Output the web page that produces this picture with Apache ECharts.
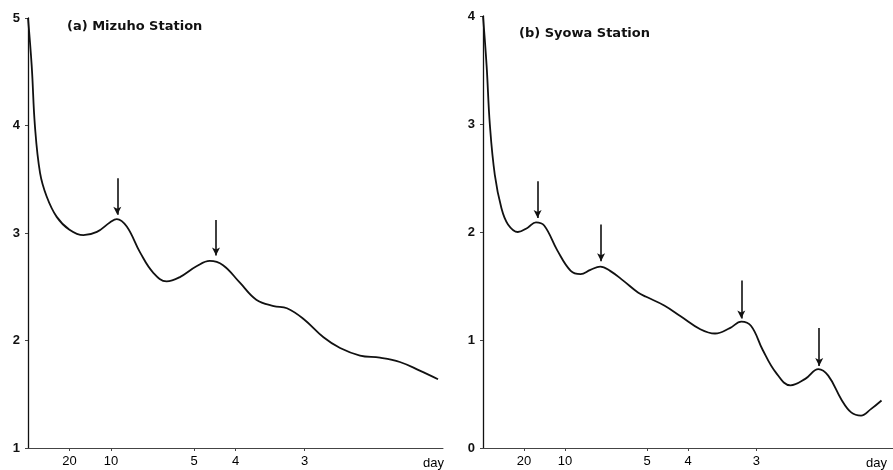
<!DOCTYPE html>
<html>
<head>
<meta charset="utf-8">
<title>Spectra - Mizuho / Syowa</title>
<script src="https://cdn.jsdelivr.net/npm/echarts@6/dist/echarts.min.js"></script>
<style>
	html, body { margin: 0; padding: 0; background: #fff; }
	#chart { width: 893px; height: 470px; }
</style>
</head>
<body>
<div id="chart"></div>
<script>
// frequency (cycles/day) and spectral level
var freqA = [0, 0.0045, 0.0084, 0.0145, 0.0225, 0.0346, 0.05, 0.0667, 0.083, 0.099, 0.107, 0.119, 0.135, 0.151, 0.167, 0.183, 0.203, 0.219, 0.235, 0.255, 0.275, 0.296, 0.312, 0.332, 0.356, 0.376, 0.40, 0.424, 0.448, 0.472, 0.494];
var specA = [5.0, 4.55, 3.99, 3.56, 3.34, 3.15, 3.03, 2.98, 3.01, 3.10, 3.13, 3.06, 2.82, 2.63, 2.55, 2.59, 2.69, 2.74, 2.70, 2.54, 2.38, 2.32, 2.30, 2.20, 2.03, 1.93, 1.86, 1.84, 1.80, 1.72, 1.64];

var freqB = [0, 0.0044, 0.0084, 0.0144, 0.0225, 0.0305, 0.0425, 0.0545, 0.0646, 0.0746, 0.0906, 0.107, 0.119, 0.131, 0.143, 0.155, 0.171, 0.189, 0.199, 0.221, 0.241, 0.265, 0.283, 0.301, 0.315, 0.327, 0.341, 0.357, 0.375, 0.393, 0.409, 0.421, 0.437, 0.449, 0.461, 0.473, 0.486];
var specB = [4.0, 3.54, 2.99, 2.53, 2.22, 2.07, 2.00, 2.04, 2.09, 2.06, 1.83, 1.64, 1.61, 1.65, 1.68, 1.64, 1.55, 1.44, 1.40, 1.32, 1.22, 1.10, 1.06, 1.11, 1.17, 1.13, 0.91, 0.70, 0.58, 0.64, 0.73, 0.67, 0.45, 0.33, 0.30, 0.36, 0.44];

// arrows over the peaks: frequency, top of shaft, tip
var arrowFreqA = [0.1076, 0.2265];
var arrowTopA = [3.51, 3.12];
var arrowTipA = [3.17, 2.79];

var arrowFreqB = [0.0666, 0.144, 0.315, 0.410];
var arrowTopB = [2.47, 2.07, 1.55, 1.11];
var arrowTipB = [2.13, 1.73, 1.20, 0.76];

// period tick labels (days)
var periodTicks = [20, 10, 5, 4, 3];

var fontFam = '"Liberation Sans", Arial, sans-serif';

function pairs(xs, ys) {
	return xs.map(function (x, i) { return [x, ys[i]]; });
}
function arrows(fs, tops, tips) {
	return fs.map(function (f, i) {
		return [{ coord: [f, tops[i]] }, { coord: [f, tips[i]] }];
	});
}

var tickFreq = periodTicks.map(function (p) { return 1 / p; });

function xAxisOpt(gridIndex, gap) {
	return {
		type: 'value', gridIndex: gridIndex, min: 0, max: 0.5,
		name: 'day', nameLocation: 'end', nameGap: gap,
		nameTextStyle: { color: '#000', fontFamily: fontFam, fontSize: 13, verticalAlign: 'top', padding: [9, 0, 0, 0] },
		axisLine: { lineStyle: { color: '#444', width: 1 } },
		axisTick: { show: true, customValues: tickFreq, length: 3, lineStyle: { color: '#444' } },
		axisLabel: {
			customValues: tickFreq, color: '#000', fontFamily: fontFam, fontSize: 13, margin: 7,
			formatter: function (v) { return Math.round(1 / v); }
		},
		splitLine: { show: false }
	};
}
function yAxisOpt(gridIndex, lo, hi) {
	return {
		type: 'value', gridIndex: gridIndex, min: lo, max: hi, interval: 1,
		axisLine: { show: true, lineStyle: { color: '#111', width: 1.3 } },
		axisTick: { show: true, length: 3, lineStyle: { color: '#444' } },
		axisLabel: { color: '#111', fontFamily: fontFam, fontSize: 13, fontWeight: 'bold', margin: 8 },
		splitLine: { show: false }
	};
}
function lineSeries(idx, data, arr) {
	return {
		type: 'line', xAxisIndex: idx, yAxisIndex: idx,
		data: data, smooth: 0.4, showSymbol: false, symbol: 'none',
		lineStyle: { color: '#111', width: 1.8 },
		markLine: {
			silent: true, symbol: ['none', 'arrow'], symbolSize: [6, 8],
			label: { show: false },
			lineStyle: { color: '#111', width: 1.6, type: 'solid' },
			data: arr
		}
	};
}

var titleStyle = { fontFamily: '"DejaVu Sans", sans-serif', fontSize: 13, fontWeight: 'bold', color: '#111' };

var myChart = echarts.init(document.getElementById('chart'));
myChart.setOption({
	animation: false,
	backgroundColor: '#fff',
	title: [
		{ text: '(a) Mizuho Station', left: 62, top: 15, textStyle: titleStyle },
		{ text: '(b) Syowa Station', left: 514, top: 22, textStyle: titleStyle }
	],
	grid: [
		{ left: 28, top: 18, right: 450, bottom: 21 },
		{ left: 483, top: 16, right: -5, bottom: 17 }
	],
	xAxis: [xAxisOpt(0, -20), xAxisOpt(1, -27)],
	yAxis: [yAxisOpt(0, 1, 5), yAxisOpt(1, 0, 4)],
	series: [
		lineSeries(0, pairs(freqA, specA), arrows(arrowFreqA, arrowTopA, arrowTipA)),
		lineSeries(1, pairs(freqB, specB), arrows(arrowFreqB, arrowTopB, arrowTipB))
	]
});
</script>
</body>
</html>
